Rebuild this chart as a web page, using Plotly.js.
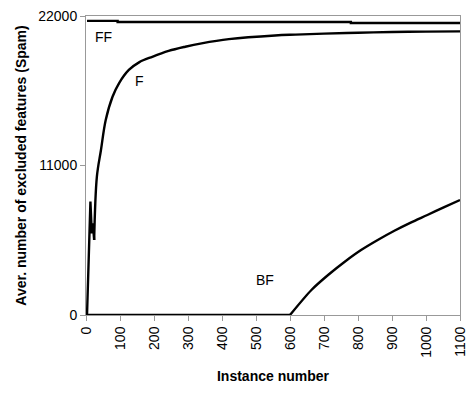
<!DOCTYPE html>
<html>
<head>
<meta charset="utf-8">
<script src="https://cdn.plot.ly/plotly-3.0.1.min.js"></script>
<style>html,body{margin:0;padding:0;background:#fff;}#chart{width:468px;height:393px;}</style>
</head>
<body>
<div id="chart"></div>
<script>
const ffX = [3, 93, 779, 1100];
const ffY = [21640, 21560, 21490, 21490];
const fX = [3, 13, 17, 20, 24, 32, 44, 58, 78, 97, 126, 156, 195, 243, 292, 340, 420, 556, 616, 700, 800, 900, 1000, 1100];
const fY = [0, 8340, 6010, 6750, 5520, 10180, 12140, 14350, 16060, 17050, 18030, 18590, 19000, 19430, 19740, 19990, 20300, 20570, 20630, 20700, 20770, 20820, 20850, 20870];
const bfX = [3, 600, 663, 712, 761, 809, 858, 907, 955, 1004, 1052, 1100];
const bfY = [0, 0, 1840, 2940, 3920, 4780, 5520, 6200, 6800, 7360, 7920, 8460];
const xTicks = [0, 100, 200, 300, 400, 500, 600, 700, 800, 900, 1000, 1100];
const yTicks = [0, 11000, 22000];
const labels = ["FF", "F", "BF"];
const labelX = [52, 157, 527];
const labelY = [20460, 17220, 2580];

const lineStyle = {color: '#000', width: 2.4};
const traces = [
  {x: ffX, y: ffY, mode: 'lines', line: Object.assign({shape: 'hv'}, lineStyle), name: 'FF'},
  {x: fX.slice(0, 5), y: fY.slice(0, 5), mode: 'lines', line: Object.assign({shape: 'linear'}, lineStyle), name: 'F'},
  {x: fX.slice(4), y: fY.slice(4), mode: 'lines', line: Object.assign({shape: 'spline', smoothing: 1}, lineStyle), name: 'F'},
  {x: bfX.slice(0, 2), y: bfY.slice(0, 2), mode: 'lines', line: Object.assign({shape: 'linear'}, lineStyle), name: 'BF'},
  {x: bfX.slice(1), y: bfY.slice(1), mode: 'lines', line: Object.assign({shape: 'spline', smoothing: 0.8}, lineStyle), name: 'BF'}
];
const fam = 'Liberation Sans, Arial, sans-serif';
const layout = {
  width: 468, height: 393,
  margin: {l: 86, r: 8, t: 16, b: 78},
  paper_bgcolor: '#fff', plot_bgcolor: '#fff',
  showlegend: false,
  font: {family: fam, color: '#000', size: 14},
  xaxis: {
    range: [0, 1100], tickvals: xTicks, ticktext: xTicks.map(String),
    tickangle: -90, ticks: 'outside', ticklen: 5, tickcolor: '#999',
    ticklabeloverflow: 'allow',
    showline: true, linecolor: '#999', linewidth: 1, mirror: true,
    showgrid: false, zeroline: false, automargin: false,
    tickfont: {family: fam, size: 14, color: '#000'},
    title: {text: '<b>Instance number</b>', font: {family: fam, size: 14, color: '#000'}, standoff: 14}
  },
  yaxis: {
    range: [0, 22000], tickvals: yTicks, ticktext: yTicks.map(String),
    ticks: 'outside', ticklen: 5, tickcolor: '#999',
    ticklabeloverflow: 'allow',
    showline: true, linecolor: '#999', linewidth: 1, mirror: true,
    showgrid: false, zeroline: false, automargin: false,
    tickfont: {family: fam, size: 14, color: '#000'},
    title: {text: '<b>Aver. number of excluded features (Spam)</b>', font: {family: fam, size: 14, color: '#000'}, standoff: 8}
  },
  annotations: labels.map((t, i) => ({
    x: labelX[i], y: labelY[i], text: t, showarrow: false,
    font: {family: fam, size: 14, color: '#000'}
  }))
};
Plotly.newPlot('chart', traces, layout, {displayModeBar: false, staticPlot: true});
</script>
</body>
</html>
